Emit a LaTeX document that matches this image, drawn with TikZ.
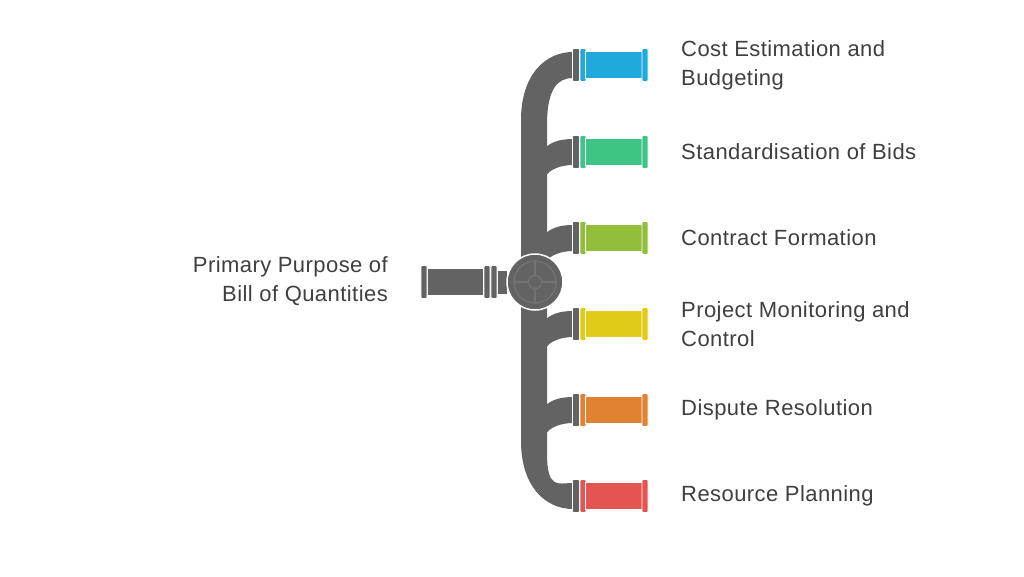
\documentclass[tikz,border=0pt]{standalone}
\usepackage{fontspec}
\setmainfont{Liberation Sans}[LetterSpace=2]
\begin{document}
\begin{tikzpicture}[x=1pt,y=-1pt,
  pipe/.style={fill=pg,draw=white,line width=0.8pt},
  lbl/.style={font=\fontsize{22}{29}\selectfont,text=tc,align=left,anchor=west,inner sep=0pt}]
\definecolor{pg}{HTML}{636363}
\definecolor{tc}{HTML}{3F3F3F}
\definecolor{c1}{HTML}{1FAADB}
\definecolor{c2}{HTML}{3EC484}
\definecolor{c3}{HTML}{93BE3A}
\definecolor{c4}{HTML}{E0CC18}
\definecolor{c5}{HTML}{E08232}
\definecolor{c6}{HTML}{E35552}
\useasboundingbox (0,0) rectangle (1024,576);
% trunk with top and bottom elbows
\fill[pg] (521,120) .. controls (521,75) and (545,52) .. (573,52) -- (573,78)
  .. controls (558,78) and (547,88) .. (547,125) -- (547,453)
  .. controls (547,490) and (558,483) .. (573,483) -- (573,509)
  .. controls (545,509) and (521,486) .. (521,441) -- cycle;
% branch fillets
\foreach \y in {152,238,324,410}{
  \fill[pg] (546,\y-5) .. controls (553,\y-11) and (562,\y-13) .. (573,\y-13) -- (573,\y+13)
    .. controls (560,\y+13) and (549,\y+18) .. (546,\y+24) -- cycle;
}
% branches
\foreach \y/\c/\n in {65/c1/b1,152/c2/b2,238/c3/b3,324/c4/b4,410/c5/b5,496/c6/b6}{
  \node[pipe,minimum width=7pt,minimum height=33pt,inner sep=0pt,rounded corners=1pt] (g\n) at (576,\y) {};
  \node[fill=\c,draw=white,line width=0.8pt,minimum width=6pt,minimum height=33pt,inner sep=0pt,rounded corners=1pt] (f\n) at (583,\y) {};
  \node[fill=\c,draw=white,line width=0.8pt,minimum width=57pt,minimum height=27pt,inner sep=0pt] (\n) at (614,\y) {};
  \node[fill=\c,draw=white,line width=0.8pt,minimum width=6pt,minimum height=33pt,inner sep=0pt,rounded corners=1pt] (e\n) at (645,\y) {};
}
% left input pipe
\node[pipe,minimum width=10pt,minimum height=24pt,inner sep=0pt] (lstub) at (502,282) {};
\node[pipe,minimum width=6pt,minimum height=33pt,inner sep=0pt,rounded corners=1pt] (lf3) at (494,282) {};
\node[pipe,minimum width=6pt,minimum height=33pt,inner sep=0pt,rounded corners=1pt] (lf2) at (487,282) {};
\node[pipe,minimum width=56pt,minimum height=27pt,inner sep=0pt] (lbody) at (455,282) {};
\node[pipe,minimum width=6pt,minimum height=33pt,inner sep=0pt,rounded corners=1pt] (lf1) at (424,282) {};
% valve
\node[circle,fill=pg,draw=white,line width=1.5pt,minimum size=56pt,inner sep=0pt] (valve) at (535,282) {};
\draw[black!55,line width=1.3pt] (535,282) circle (21);
\node[circle,draw=black!55,line width=1.3pt,fill=pg,minimum size=13pt,inner sep=0pt] (hub) at (535,282) {};
\draw[black!55,line width=1.3pt] (hub.north) -- ++(0,-14.5) (hub.south) -- ++(0,14.5)
  (hub.west) -- ++(-14.5,0) (hub.east) -- ++(14.5,0);
% labels
\node[lbl] (t1) at (681,65) {Cost Estimation and\\Budgeting};
\node[lbl] (t2) at (681,152) {Standardisation of Bids};
\node[lbl] (t3) at (681,238) {Contract Formation};
\node[lbl] (t4) at (681,324) {Project Monitoring and\\Control};
\node[lbl] (t5) at (681,410) {Dispute Resolution};
\node[lbl] (t6) at (681,496) {Resource Planning};
\node[lbl,anchor=east,align=right] (t0) at (388,281) {Primary Purpose of\\Bill of Quantities};
\end{tikzpicture}
\end{document}
